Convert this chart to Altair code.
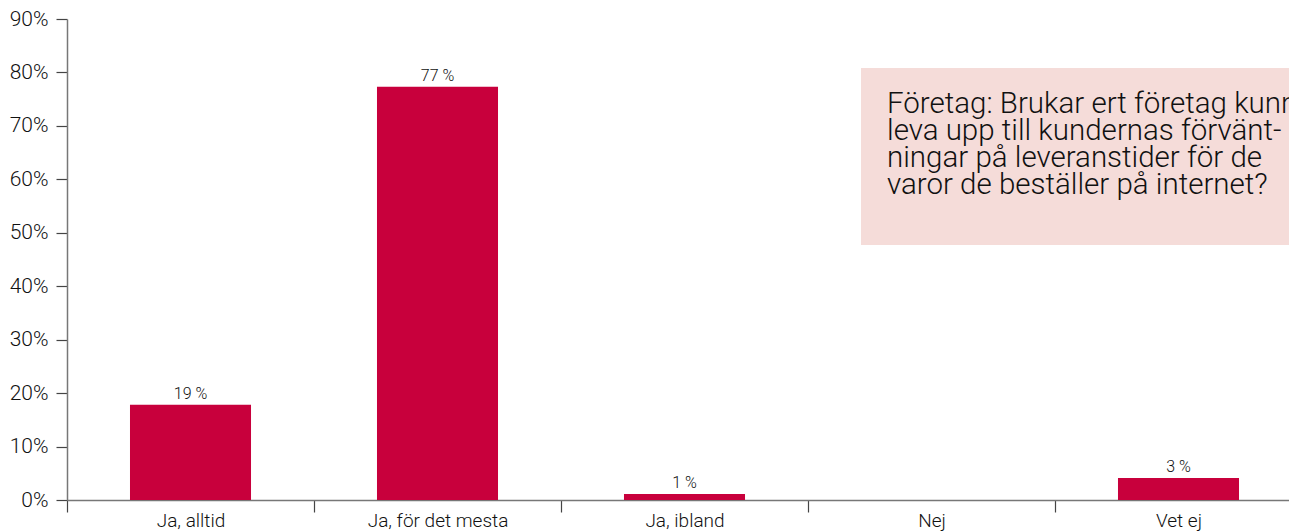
import altair as alt
import pandas as pd

categories = ["Ja, alltid", "Ja, för det mesta", "Ja, ibland", "Nej", "Vet ej"]
values = [17.8, 77.3, 1.1, 0.0, 4.1]
value_labels = ["19 %", "77 %", "1 %", "", "3 %"]
y_ticks = [0, 10, 20, 30, 40, 50, 60, 70, 80, 90]
note_lines = [
    "Företag: Brukar ert företag kunna",
    "leva upp till kundernas förvänt-",
    "ningar på leveranstider för de",
    "varor de beställer på internet?",
]

FONT = "Roboto, Liberation Sans, sans-serif"
BAR = "#c8003c"

df = pd.DataFrame({"cat": categories, "val": values, "lab": value_labels})

x = alt.X("cat:N", sort=categories, title=None,
          scale=alt.Scale(paddingInner=0, paddingOuter=0, range=[0, 1235]),
          axis=alt.Axis(labelAngle=0, tickBand="extent", tickSize=12, labelPadding=-1,
                        labelFontSize=19, labelFontWeight=300, labelColor="#111", labelFont=FONT,
                        domainColor="#777", domainWidth=1.5, tickColor="#444", tickWidth=1.2))
y = alt.Y("val:Q", title=None,
          scale=alt.Scale(domain=[0, 90], nice=False),
          axis=alt.Axis(values=y_ticks, labelExpr="datum.value + '%'", tickSize=11,
                        labelPadding=8, labelFontSize=21, labelFontWeight=300,
                        labelColor="#111", labelFont=FONT,
                        domainColor="#777", domainWidth=1.5, tickColor="#444", tickWidth=1.2,
                        grid=False))

bars = alt.Chart(df).mark_bar(color=BAR, width=alt.RelativeBandSize(0.49)).encode(x=x, y=y)

labels = alt.Chart(df).mark_text(baseline="alphabetic", dy=-6, fontSize=16, fontWeight=300,
                                 color="#111", font=FONT).encode(
    x=alt.X("cat:N", sort=categories), y="val:Q", text="lab:N")

note_df = pd.DataFrame({"t": [note_lines]})
box = alt.Chart(note_df).mark_rect(color="#f5dcd9").encode(
    x=alt.value(794), x2=alt.value(1260), y=alt.value(49), y2=alt.value(226))
note = alt.Chart(note_df).mark_text(align="left", baseline="alphabetic", fontSize=29.5,
                                    fontWeight=300, lineHeight=27, color="#111",
                                    font=FONT).encode(
    x=alt.value(820), y=alt.value(94), text="t")

chart = alt.layer(bars, labels, box, note).properties(
    width=1222, height=481,
    autosize=alt.AutoSizeParams(type="none"),
    padding={"left": 59, "top": 11, "right": 0, "bottom": 40},
).configure_view(stroke=None).configure_axis(grid=False)

chart.save("out.html", embed_options={"renderer": "svg", "actions": False})
